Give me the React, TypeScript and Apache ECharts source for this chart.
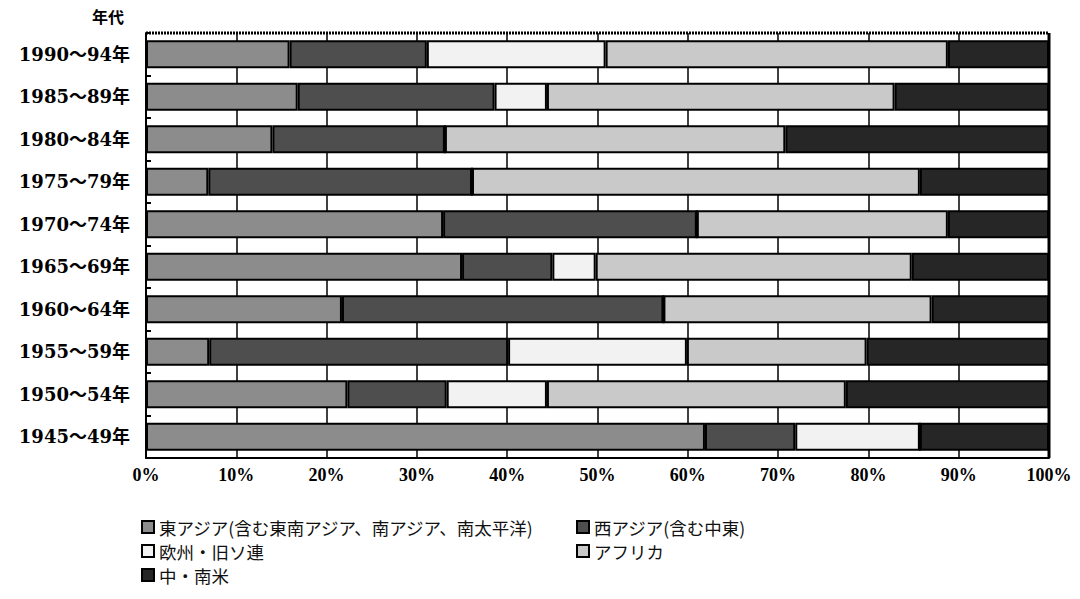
import React, { useEffect, useRef } from "react";
import * as echarts from "echarts";

const categories = [
  "1990～94年",
  "1985～89年",
  "1980～84年",
  "1975～79年",
  "1970～74年",
  "1965～69年",
  "1960～64年",
  "1955～59年",
  "1950～54年",
  "1945～49年",
];

const seriesNames = [
  "東アジア(含む東南アジア、南アジア、南太平洋)",
  "西アジア(含む中東)",
  "欧州・旧ソ連",
  "アフリカ",
  "中・南米",
];

const eastAsia = [15.9, 16.8, 14.0, 6.9, 32.9, 35.0, 21.7, 7.0, 22.3, 61.9];
const westAsia = [15.2, 21.8, 19.1, 29.2, 28.1, 10.0, 35.6, 33.1, 11.0, 10.0];
const europe = [19.8, 5.8, 0, 0, 0, 4.8, 0, 19.8, 11.1, 13.8];
const africa = [37.9, 38.5, 37.7, 49.6, 27.8, 35.0, 29.7, 19.9, 33.1, 0];
const latinAmerica = [11.2, 17.1, 29.2, 14.3, 11.2, 15.2, 13.0, 20.2, 22.5, 14.3];

const xTickLabels = ["0%", "10%", "20%", "30%", "40%", "50%", "60%", "70%", "80%", "90%", "100%"];

const fills = ["#8c8c8c", "#4e4e4e", "#f2f2f2", "#c9c9c9", "#262626"];

const serifFont = "'Liberation Serif', 'DejaVu Serif', 'Noto Sans CJK JP', serif";
const wideSerif = "'DejaVu Serif', 'Noto Sans CJK JP', serif";
const jpFont = "'Noto Sans CJK JP', sans-serif";

export default function App() {
  const ref = useRef<HTMLDivElement>(null);
  useEffect(() => {
    if (!ref.current) return;
    const chart = echarts.init(ref.current, undefined, { renderer: "svg" });
    const values = [eastAsia, westAsia, europe, africa, latinAmerica];
    const legendPos = [
      { left: 139, top: 515 },
      { left: 574, top: 515 },
      { left: 139, top: 539 },
      { left: 574, top: 539 },
      { left: 139, top: 563 },
    ];
    chart.setOption({
      animation: false,
      backgroundColor: "#ffffff",
      grid: { left: 146, right: 31, top: 33, bottom: 141, show: false },
      legend: seriesNames.map((n, i) => ({
        data: [n],
        left: legendPos[i].left,
        top: legendPos[i].top,
        padding: 2,
        itemWidth: 12,
        itemHeight: 12,
        itemGap: 5,
        selectedMode: false,
        icon: "rect",
        textStyle: { fontFamily: jpFont, fontSize: 17.5, lineHeight: 20, color: "#111" },
      })),
      xAxis: {
        type: "value",
        min: 0,
        max: 100,
        interval: 10,
        position: "bottom",
        axisLine: { show: true, lineStyle: { color: "#000", width: 2 } },
        axisTick: { show: false },
        splitLine: { show: true, lineStyle: { color: "#000", width: 1.5 } },
        axisLabel: {
          formatter: (v: number) => xTickLabels[Math.round(v / 10)],
          fontFamily: serifFont,
          fontWeight: "bold",
          fontSize: 18,
          color: "#000",
          margin: 8,
        },
      },
      yAxis: {
        type: "category",
        data: categories,
        inverse: true,
        axisLine: { show: true, lineStyle: { color: "#000", width: 2 } },
        axisTick: { show: true, inside: true, length: 5, lineStyle: { color: "#000", width: 2 } },
        axisLabel: {
          fontFamily: wideSerif,
          fontWeight: "bold",
          fontSize: 18,
          color: "#000",
          margin: 16,
        },
      },
      graphic: [
        {
          type: "text",
          left: 92,
          top: 8,
          style: {
            text: "年代",
            fontFamily: jpFont,
            fontWeight: "bold",
            fontSize: 16,
            fill: "#000",
          },
        },
        {
          type: "line",
          shape: { x1: 146, y1: 33, x2: 1049, y2: 33 },
          style: { stroke: "#000", lineWidth: 3, lineDash: [2, 1] },
        },
        {
          type: "line",
          shape: { x1: 1049, y1: 33, x2: 1049, y2: 458 },
          style: { stroke: "#000", lineWidth: 3 },
        },
      ],
      series: seriesNames.map((n, i) => ({
        name: n,
        type: "bar",
        stack: "total",
        barWidth: 28,
        data: values[i],
        itemStyle: { color: fills[i], borderColor: "#000", borderWidth: 2 },
      })),
    });
    return () => chart.dispose();
  }, []);
  return (
    <div
      ref={ref}
      style={{ position: "fixed", left: 0, top: 0, width: 1080, height: 599 }}
    />
  );
}
